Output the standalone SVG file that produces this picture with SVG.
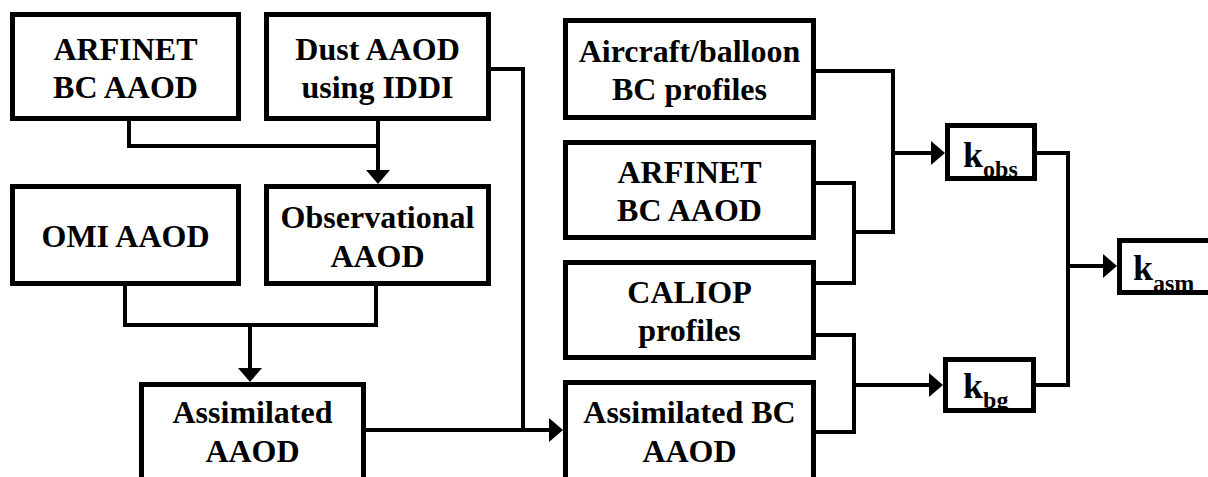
<svg xmlns="http://www.w3.org/2000/svg" width="1208" height="477" viewBox="0 0 1208 477" font-family="Liberation Serif, serif">
<defs>
<style>
svg text, svg tspan, g text{font-family:'Liberation Serif','Times New Roman',serif !important;font-weight:bold !important}
.bx{fill:none;stroke:#000;stroke-width:5}
.cn{fill:none;stroke:#000;stroke-width:4;stroke-linejoin:miter;stroke-linecap:square}
.hd{fill:#000;stroke:none}
</style>
</defs>
<rect width="1208" height="477" fill="#fff"/>
<g id="connectors">
<path class="cn" d="M129,122 V146 H378"/>
<path class="cn" d="M378,122 V172"/>
<polygon class="hd" points="366,170 390,170 378,184"/>
<path class="cn" d="M125,287 V325 H376 V287"/>
<path class="cn" d="M250,325 V370"/>
<polygon class="hd" points="238,368 262,368 250,382"/>
<path class="cn" d="M492,69 H523 V430"/>
<path class="cn" d="M367,430 H550"/>
<polygon class="hd" points="549,418 549,442 563,430"/>
<path class="cn" d="M817,71 H893 V232 H854"/>
<path class="cn" d="M817,183 H854 V283 H817"/>
<path class="cn" d="M893,153 H932"/>
<polygon class="hd" points="931,141 931,165 945,153"/>
<path class="cn" d="M817,335 H854 V432 H817"/>
<path class="cn" d="M854,385 H930"/>
<polygon class="hd" points="929,373 929,397 943,385"/>
<path class="cn" d="M1038,153 H1068 V385 H1037"/>
<path class="cn" d="M1068,266 H1104"/>
<polygon class="hd" points="1103,254 1103,278 1117,266"/>
</g>
<g id="arfinet1">
<rect class="bx" x="12.5" y="14.5" width="226" height="104"/>
<text x="125.5" y="60" font-family="Liberation Serif, serif" font-weight="bold" font-size="32" text-anchor="middle">ARFINET</text>
<text x="125.5" y="98" font-family="Liberation Serif, serif" font-weight="bold" font-size="32" text-anchor="middle">BC AAOD</text>
</g>
<g id="dust">
<rect class="bx" x="266.5" y="14.5" width="222" height="104"/>
<text x="377.5" y="60" font-family="Liberation Serif, serif" font-weight="bold" font-size="32" text-anchor="middle">Dust AAOD</text>
<text x="377.5" y="98" font-family="Liberation Serif, serif" font-weight="bold" font-size="32" text-anchor="middle">using IDDI</text>
</g>
<g id="omi">
<rect class="bx" x="12.5" y="186.5" width="226" height="97"/>
<text x="125.5" y="247" font-family="Liberation Serif, serif" font-weight="bold" font-size="32" text-anchor="middle">OMI AAOD</text>
</g>
<g id="observational">
<rect class="bx" x="266.5" y="186.5" width="222" height="97"/>
<text x="377.5" y="228" font-family="Liberation Serif, serif" font-weight="bold" font-size="32" text-anchor="middle">Observational</text>
<text x="377.5" y="267" font-family="Liberation Serif, serif" font-weight="bold" font-size="32" text-anchor="middle">AAOD</text>
</g>
<g id="assimilated">
<rect class="bx" x="141.5" y="384.5" width="222" height="110"/>
<text x="252.5" y="423" font-family="Liberation Serif, serif" font-weight="bold" font-size="32" text-anchor="middle">Assimilated</text>
<text x="252.5" y="462" font-family="Liberation Serif, serif" font-weight="bold" font-size="32" text-anchor="middle">AAOD</text>
</g>
<g id="aircraft">
<rect class="bx" x="565.5" y="20.5" width="248" height="97"/>
<text x="689.5" y="62" font-family="Liberation Serif, serif" font-weight="bold" font-size="32" text-anchor="middle">Aircraft/balloon</text>
<text x="689.5" y="100" font-family="Liberation Serif, serif" font-weight="bold" font-size="32" text-anchor="middle">BC profiles</text>
</g>
<g id="arfinet2">
<rect class="bx" x="565.5" y="142.5" width="248" height="95"/>
<text x="689.5" y="183" font-family="Liberation Serif, serif" font-weight="bold" font-size="32" text-anchor="middle">ARFINET</text>
<text x="689.5" y="221" font-family="Liberation Serif, serif" font-weight="bold" font-size="32" text-anchor="middle">BC AAOD</text>
</g>
<g id="caliop">
<rect class="bx" x="565.5" y="262.5" width="248" height="95"/>
<text x="689.5" y="303" font-family="Liberation Serif, serif" font-weight="bold" font-size="32" text-anchor="middle">CALIOP</text>
<text x="689.5" y="341" font-family="Liberation Serif, serif" font-weight="bold" font-size="32" text-anchor="middle">profiles</text>
</g>
<g id="assimilated-bc">
<rect class="bx" x="565.5" y="382.5" width="248" height="110"/>
<text x="689.5" y="423" font-family="Liberation Serif, serif" font-weight="bold" font-size="32" text-anchor="middle">Assimilated BC</text>
<text x="689.5" y="462" font-family="Liberation Serif, serif" font-weight="bold" font-size="32" text-anchor="middle">AAOD</text>
</g>
<g id="k-obs">
<text x="963" y="167" font-family="Liberation Serif, serif" font-weight="bold" font-size="36">k<tspan font-size="24" dy="10">obs</tspan></text>
<rect class="bx" x="947.5" y="125.5" width="87" height="53"/>
</g>
<g id="k-bg">
<text x="963" y="398" font-family="Liberation Serif, serif" font-weight="bold" font-size="36">k<tspan font-size="24" dy="10">bg</tspan></text>
<rect class="bx" x="945.5" y="359.5" width="88" height="51"/>
</g>
<g id="k-asm">
<text x="1133" y="280" font-family="Liberation Serif, serif" font-weight="bold" font-size="36">k<tspan font-size="24" dy="11">asm</tspan></text>
<rect class="bx" x="1119.5" y="240.5" width="100" height="52"/>
</g>
</svg>
